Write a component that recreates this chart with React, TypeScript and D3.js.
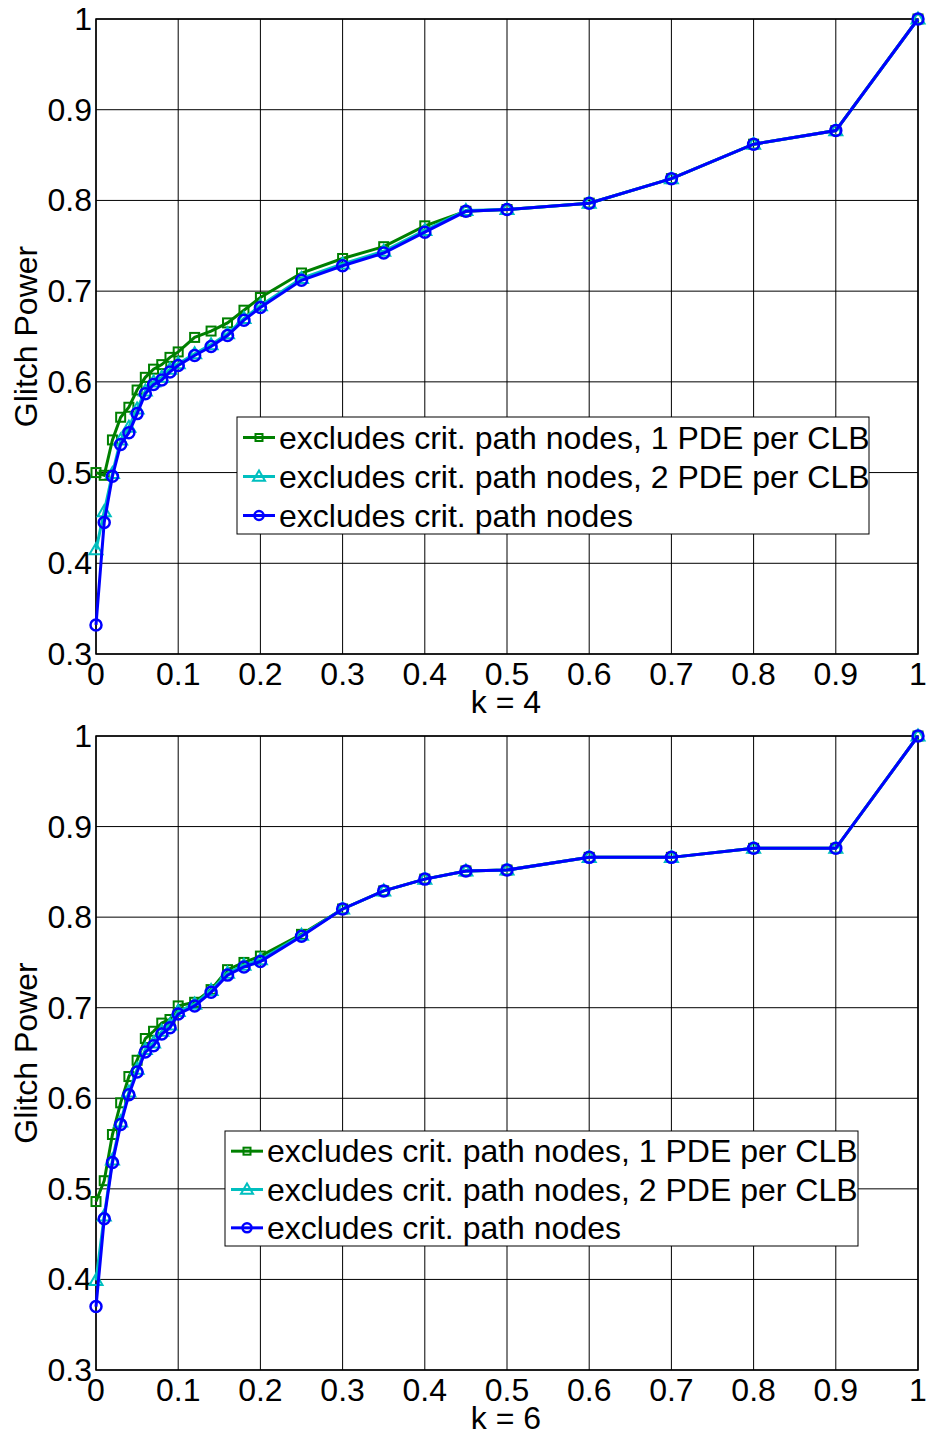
import React from "react";
import * as d3 from "d3";

const xValues = [0, 0.01, 0.02, 0.03, 0.04, 0.05, 0.06, 0.07, 0.08, 0.09, 0.1, 0.12, 0.14, 0.16, 0.18, 0.2, 0.25, 0.3, 0.35, 0.4, 0.45, 0.5, 0.6, 0.7, 0.8, 0.9, 1.0];

const k4Green = [0.500, 0.497, 0.536, 0.561, 0.572, 0.591, 0.605, 0.614, 0.619, 0.627, 0.633, 0.649, 0.656, 0.665, 0.679, 0.693, 0.720, 0.736, 0.749, 0.772, 0.788, 0.790, 0.797, 0.824, 0.862, 0.877, 1.0];
const k4Cyan = [0.415, 0.457, 0.499, 0.536, 0.550, 0.570, 0.590, 0.600, 0.605, 0.614, 0.620, 0.631, 0.641, 0.653, 0.670, 0.684, 0.714, 0.730, 0.744, 0.767, 0.789, 0.790, 0.797, 0.824, 0.862, 0.877, 1.0];
const k4Blue = [0.332, 0.445, 0.496, 0.531, 0.544, 0.565, 0.587, 0.597, 0.602, 0.611, 0.618, 0.629, 0.639, 0.651, 0.668, 0.682, 0.712, 0.728, 0.742, 0.765, 0.788, 0.790, 0.797, 0.824, 0.862, 0.877, 1.0];

const k6Green = [0.486, 0.509, 0.560, 0.595, 0.624, 0.642, 0.666, 0.674, 0.683, 0.687, 0.702, 0.706, 0.720, 0.742, 0.750, 0.757, 0.781, 0.809, 0.829, 0.842, 0.851, 0.852, 0.866, 0.866, 0.876, 0.876, 1.0];
const k6Cyan = [0.399, 0.470, 0.532, 0.574, 0.607, 0.632, 0.654, 0.661, 0.674, 0.681, 0.696, 0.704, 0.719, 0.738, 0.747, 0.753, 0.780, 0.809, 0.829, 0.842, 0.851, 0.852, 0.866, 0.866, 0.876, 0.876, 1.0];
const k6Blue = [0.370, 0.467, 0.529, 0.571, 0.604, 0.629, 0.651, 0.658, 0.671, 0.678, 0.693, 0.702, 0.717, 0.736, 0.745, 0.751, 0.779, 0.809, 0.829, 0.842, 0.851, 0.852, 0.866, 0.866, 0.876, 0.876, 1.0];

const xTicks = [0, 0.1, 0.2, 0.3, 0.4, 0.5, 0.6, 0.7, 0.8, 0.9, 1];
const yTicks = [0.3, 0.4, 0.5, 0.6, 0.7, 0.8, 0.9, 1];
const legendLabels = [
  "excludes crit. path nodes, 1 PDE per CLB",
  "excludes crit. path nodes, 2 PDE per CLB",
  "excludes crit. path nodes",
];
const colors = ["#008000", "#00BFBF", "#0000FF"];
const markers = ["square", "triangle", "circle"];

const FONT = "'Liberation Sans', Arial, sans-serif";
const FS = 32;

function Marker({ type, x, y, color, small }: { type: string; x: number; y: number; color: string; small?: boolean }) {
  if (type === "square") {
    const h = small ? 3.5 : 4.5;
    return <rect x={x - h} y={y - h} width={2 * h} height={2 * h} fill="none" stroke={color} strokeWidth={2} />;
  }
  if (type === "triangle") {
    const s = small ? 6 : 6.5;
    return (
      <path
        d={`M${x},${y - s} L${x + s},${y + s * 0.7} L${x - s},${y + s * 0.7} Z`}
        fill="none"
        stroke={color}
        strokeWidth={2}
      />
    );
  }
  return <circle cx={x} cy={y} r={small ? 4.5 : 5.5} fill="none" stroke={color} strokeWidth={2.5} />;
}

function Panel({
  top,
  bottom,
  series,
  xLabel,
  legend,
}: {
  top: number;
  bottom: number;
  series: number[][];
  xLabel: string;
  legend: { x0: number; x1: number; y0: number; y1: number };
}) {
  const left = 96;
  const right = 918;
  const x = d3.scaleLinear().domain([0, 1]).range([left, right]);
  const y = d3.scaleLinear().domain([0.3, 1]).range([bottom, top]);
  const line = d3
    .line<[number, number]>()
    .x((d) => x(d[0]))
    .y((d) => y(d[1]));
  const rowH = (legend.y1 - legend.y0) / 3;
  return (
    <g>
      {xTicks.map((t) => (
        <line key={"gx" + t} x1={x(t)} x2={x(t)} y1={top} y2={bottom} stroke="#000" strokeWidth={1} />
      ))}
      {yTicks.map((t) => (
        <line key={"gy" + t} x1={left} x2={right} y1={y(t)} y2={y(t)} stroke="#000" strokeWidth={1} />
      ))}
      <rect x={left} y={top} width={right - left} height={bottom - top} fill="none" stroke="#000" strokeWidth={1.5} />
      {yTicks.map((t) => (
        <text key={"ly" + t} x={left - 4} y={y(t) + 11} textAnchor="end" fontSize={FS} fontFamily={FONT}>
          {String(t)}
        </text>
      ))}
      {xTicks.map((t) => (
        <text key={"lx" + t} x={x(t)} y={bottom + 31} textAnchor="middle" fontSize={FS} fontFamily={FONT}>
          {String(t)}
        </text>
      ))}
      <text x={(left + right) / 2 - 1} y={bottom + 59} textAnchor="middle" fontSize={FS} fontFamily={FONT}>
        {xLabel}
      </text>
      <text
        transform={`translate(37,${(top + bottom) / 2}) rotate(-90)`}
        textAnchor="middle"
        fontSize={FS}
        fontFamily={FONT}
      >
        Glitch Power
      </text>
      {series.map((s, i) => {
        const pts: [number, number][] = xValues.map((xv, j) => [xv, s[j]]);
        return (
          <g key={"s" + i}>
            <path d={line(pts) || ""} fill="none" stroke={colors[i]} strokeWidth={3} />
            {pts.map((p, j) => (
              <Marker key={j} type={markers[i]} x={x(p[0])} y={y(p[1])} color={colors[i]} />
            ))}
          </g>
        );
      })}
      <rect
        x={legend.x0}
        y={legend.y0}
        width={legend.x1 - legend.x0}
        height={legend.y1 - legend.y0}
        fill="#fff"
        stroke="#000"
        strokeWidth={1}
      />
      {legendLabels.map((lab, i) => {
        const cy = legend.y0 + rowH * (i + 0.5) + 1;
        return (
          <g key={"lg" + i}>
            <line x1={legend.x0 + 6} x2={legend.x0 + 38} y1={cy} y2={cy} stroke={colors[i]} strokeWidth={3} />
            <Marker type={markers[i]} x={legend.x0 + 22} y={cy} color={colors[i]} small />
            <text x={legend.x0 + 42} y={cy + 11} fontSize={FS} fontFamily={FONT}>
              {lab}
            </text>
          </g>
        );
      })}
    </g>
  );
}

export default function App() {
  return (
    <svg
      width={927}
      height={1437}
      style={{ position: "absolute", left: 0, top: 0, background: "#fff" }}
    >
      <rect width={927} height={1437} fill="#fff" />
      <Panel
        top={19}
        bottom={654}
        series={[k4Green, k4Cyan, k4Blue]}
        xLabel="k = 4"
        legend={{ x0: 237, x1: 869, y0: 417, y1: 534 }}
      />
      <Panel
        top={736}
        bottom={1370}
        series={[k6Green, k6Cyan, k6Blue]}
        xLabel="k = 6"
        legend={{ x0: 225, x1: 858, y0: 1131, y1: 1246 }}
      />
    </svg>
  );
}
